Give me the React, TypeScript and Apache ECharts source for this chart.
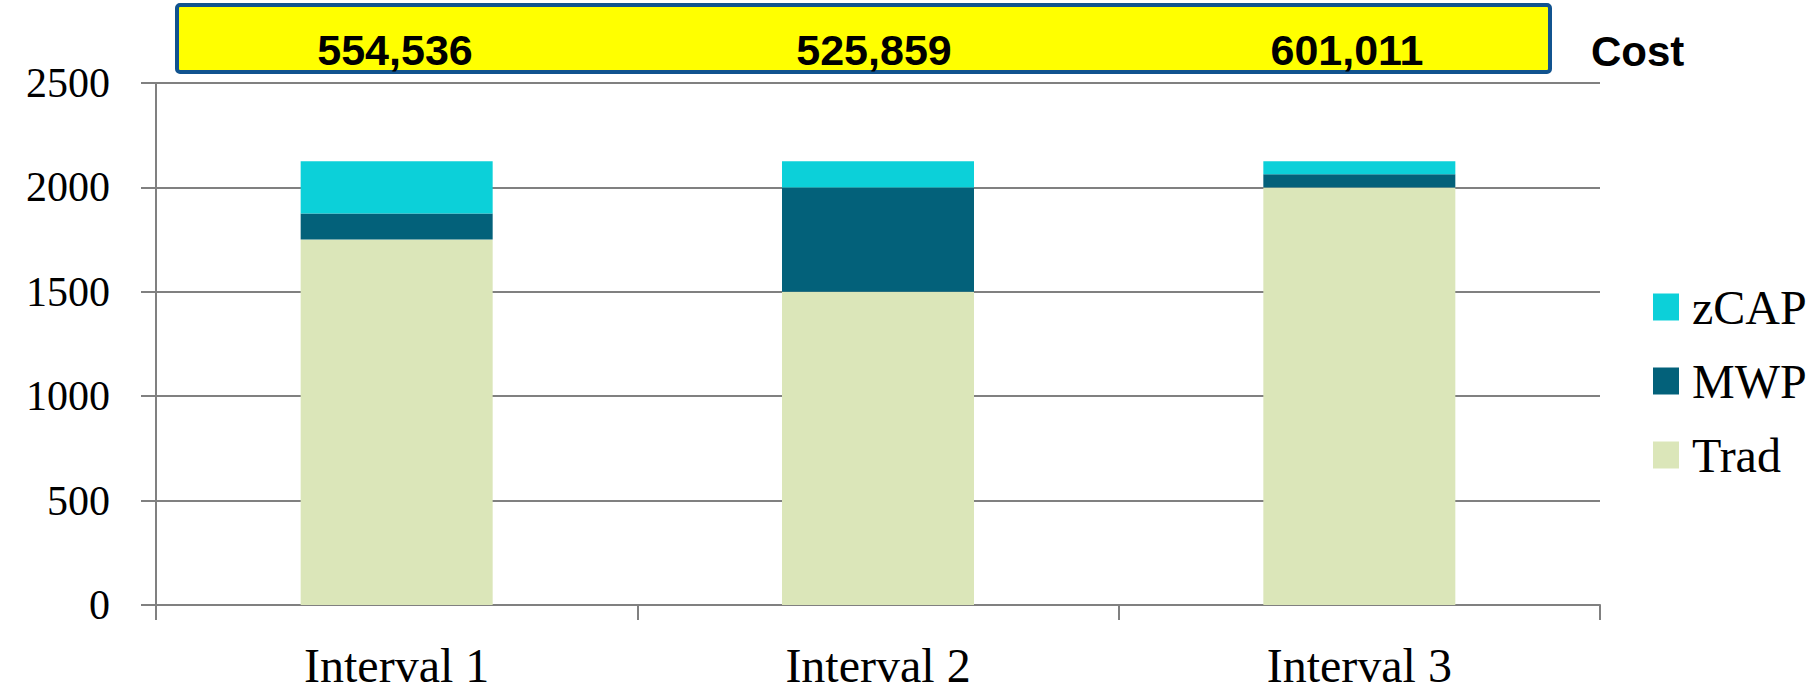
import React, { useEffect, useRef } from "react";
import * as echarts from "echarts";

const categories = ["Interval 1", "Interval 2", "Interval 3"];
const tradValues = [1750, 1500, 2000];
const mwpValues = [125, 500, 62.5];
const zcapValues = [250, 125, 62.5];
const costLabels = ["554,536", "525,859", "601,011"];
const legendOrder = ["zCAP", "MWP", "Trad"];

const GRID = "#808080";
const SERIF = "'Liberation Serif', 'DejaVu Serif', serif";
const SANS = "'Liberation Sans', Arial, sans-serif";

export default function App() {
  const ref = useRef<HTMLDivElement>(null);
  useEffect(() => {
    document.body.style.margin = "0";
    const chart = echarts.init(ref.current!, null, { renderer: "svg" });
    const costX = [395, 874, 1347];
    chart.setOption({
      animation: false,
      backgroundColor: "#ffffff",
      grid: { left: 156, right: 216, top: 83, bottom: 88 },
      legend: {
        orient: "vertical",
        left: 1648,
        top: 278,
        icon: "rect",
        itemWidth: 26,
        itemHeight: 27,
        itemGap: 26,
        data: legendOrder,
        selectedMode: false,
        textStyle: {
          fontFamily: SERIF,
          fontSize: 48,
          lineHeight: 48,
          color: "#000",
          padding: [0, 0, 0, 8],
        },
      },
      xAxis: {
        type: "category",
        data: categories,
        axisLine: { lineStyle: { color: GRID, width: 2 } },
        axisTick: { show: true, length: 15, interval: 0, lineStyle: { color: GRID, width: 2 } },
        axisLabel: { fontFamily: SERIF, fontSize: 48, color: "#000", margin: 36, interval: 0 },
      },
      yAxis: {
        type: "value",
        min: 0,
        max: 2500,
        interval: 500,
        axisLine: { show: true, lineStyle: { color: GRID, width: 2 } },
        axisTick: { show: true, length: 15, lineStyle: { color: GRID, width: 2 } },
        splitLine: { show: true, lineStyle: { color: GRID, width: 2 } },
        axisLabel: {
          fontFamily: SERIF,
          fontSize: 42,
          color: "#000",
          margin: 46,
          formatter: (v: number) => String(v),
        },
      },
      series: [
        { name: "Trad", type: "bar", stack: "s", barWidth: 192, data: tradValues, itemStyle: { color: "#DBE6B9" } },
        { name: "MWP", type: "bar", stack: "s", barWidth: 192, data: mwpValues, itemStyle: { color: "#03617A" } },
        { name: "zCAP", type: "bar", stack: "s", barWidth: 192, data: zcapValues, itemStyle: { color: "#0CD0D9" } },
      ],
      graphic: [
        {
          type: "rect",
          shape: { x: 177, y: 5, width: 1373, height: 67, r: 3 },
          style: { fill: "#FFFF00", stroke: "#11538F", lineWidth: 4 },
          z: 10,
        },
        ...costLabels.map((t, i) => ({
          type: "text",
          x: costX[i],
          y: 50,
          z: 11,
          style: {
            text: t,
            align: "center",
            verticalAlign: "middle",
            fontFamily: SANS,
            fontWeight: "bold",
            fontSize: 43,
            fill: "#000",
          },
        })),
        {
          type: "text",
          x: 1591,
          y: 51,
          z: 11,
          style: {
            text: "Cost",
            align: "left",
            verticalAlign: "middle",
            fontFamily: SANS,
            fontWeight: "bold",
            fontSize: 42,
            fill: "#000",
          },
        },
      ],
    });
    return () => chart.dispose();
  }, []);
  return <div ref={ref} style={{ width: 1816, height: 693, position: "absolute", left: 0, top: 0 }} />;
}
